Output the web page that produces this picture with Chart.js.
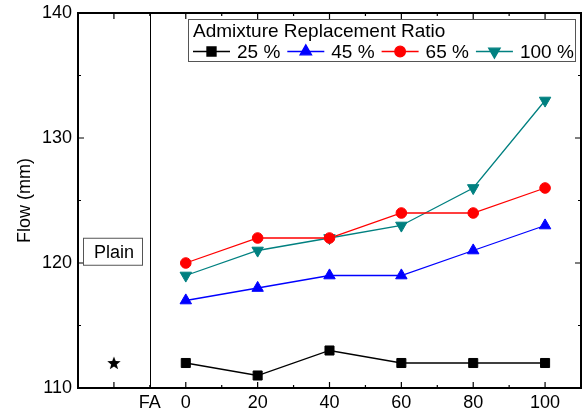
<!DOCTYPE html>
<html>
<head>
<meta charset="utf-8">
<script src="https://cdn.jsdelivr.net/npm/chart.js@4"></script>
<style>
html, body { margin: 0; padding: 0; background: #fff; }
#wrap { width: 583px; height: 411px; }
</style>
</head>
<body>
<div id="wrap"><canvas id="chart" width="583" height="411"></canvas></div>
<script>
// data
const ratios = [0, 20, 40, 60, 80, 100];
const seriesLabels = ['25 %', '45 %', '65 %', '100 %'];
const flow25 = [112, 111, 113, 112, 112, 112];
const flow45 = [117, 118, 119, 119, 121, 123];
const flow65 = [120, 122, 122, 124, 124, 126];
const flow100 = [119, 121, 122, 123, 126, 133];
const plainX = [-20];
const plainFlow = [112];
const xLabelValues = [0, 20, 40, 60, 80, 100];
const faValue = -10;
const faLabel = 'FA';
const yLabelValues = [110, 120, 130, 140];
const legendTitle = 'Admixture Replacement Ratio';
const plainLabel = 'Plain';
const yTitle = 'Flow (mm)';

const FONT = "'Liberation Sans', Arial, sans-serif";
Chart.defaults.font.family = FONT;
Chart.defaults.color = '#000';

function pts(xs, ys) {
    return xs.map(function (x, i) { return { x: x, y: ys[i] }; });
}

// filled five point star for the plain mix
function makeStar(size) {
    const c = document.createElement('canvas');
    c.width = size; c.height = size;
    const g = c.getContext('2d');
    const cx = size / 2, cy = size / 2 + 0.5, R = size / 2, r = R * 0.42;
    g.beginPath();
    for (let i = 0; i < 10; i++) {
        const rad = i % 2 === 0 ? R : r;
        const a = -Math.PI / 2 + i * Math.PI / 5;
        g.lineTo(cx + rad * Math.cos(a), cy + rad * Math.sin(a));
    }
    g.closePath();
    g.fillStyle = '#000';
    g.fill();
    return c;
}

function series(label, data, color, style, radius, rotation) {
    return {
        label: label,
        data: pts(ratios, data),
        borderColor: color,
        backgroundColor: color,
        borderWidth: 1.3,
        pointStyle: style,
        pointRadius: radius,
        pointRotation: rotation || 0,
        pointBorderWidth: 1,
        pointBorderColor: color,
        pointBackgroundColor: color,
        tension: 0,
    };
}

const datasets = [
    series(seriesLabels[0], flow25, '#000000', 'rect', 6.4),
    series(seriesLabels[1], flow45, '#0000ff', 'triangle', 6.6),
    series(seriesLabels[2], flow65, '#ff0000', 'circle', 5.3),
    series(seriesLabels[3], flow100, '#008080', 'triangle', 6.6, 180),
    {
        label: plainLabel,
        data: pts(plainX, plainFlow),
        showLine: false,
        pointStyle: makeStar(14),
        pointRadius: 7,
    },
];

const decor = {
    id: 'decor',
    beforeDatasetsDraw: function (chart) {
        const ctx = chart.ctx;
        const a = chart.chartArea;
        const xs = chart.scales.x, ys = chart.scales.y;
        ctx.save();
        ctx.strokeStyle = '#000';
        // separator between plain and FA mixes
        ctx.lineWidth = 1;
        const sx = Math.round(xs.getPixelForValue(faValue)) + 0.5;
        ctx.beginPath();
        ctx.moveTo(sx, a.top);
        ctx.lineTo(sx, a.bottom);
        ctx.stroke();
        // inward ticks on all four sides
        ctx.lineWidth = 1.2;
        ctx.beginPath();
        for (let v = xs.min + 10; v < xs.max; v += 10) {
            const len = v % 20 === 0 ? 6 : 3;
            const px = xs.getPixelForValue(v);
            ctx.moveTo(px, a.bottom); ctx.lineTo(px, a.bottom - len);
            ctx.moveTo(px, a.top); ctx.lineTo(px, a.top + len);
        }
        for (let v = ys.min + 5; v < ys.max; v += 5) {
            const len = v % 10 === 0 ? 6 : 3;
            const py = ys.getPixelForValue(v);
            ctx.moveTo(a.left, py); ctx.lineTo(a.left + len, py);
            ctx.moveTo(a.right, py); ctx.lineTo(a.right - len, py);
        }
        ctx.stroke();
        ctx.restore();
    },
    afterDatasetsDraw: function (chart) {
        const ctx = chart.ctx;
        const a = chart.chartArea;
        const xs = chart.scales.x, ys = chart.scales.y;
        ctx.save();
        // frame
        ctx.strokeStyle = '#000';
        ctx.lineWidth = 2;
        ctx.strokeRect(a.left, a.top, a.right - a.left, a.bottom - a.top);

        // "Plain" label box
        ctx.font = '18px ' + FONT;
        ctx.textAlign = 'center';
        ctx.textBaseline = 'middle';
        const pcx = xs.getPixelForValue(plainX[0]);
        const pcy = ys.getPixelForValue(120.9);
        ctx.lineWidth = 1;
        ctx.strokeStyle = '#555';
        ctx.strokeRect(83.5, pcy - 13.5, 59, 27);
        ctx.fillStyle = '#000';
        ctx.fillText(plainLabel, pcx, pcy + 1);

        // legend box
        const lx = 188.5, ly = 19.5, lw = 387, lh = 42;
        ctx.strokeStyle = '#555';
        ctx.lineWidth = 1;
        ctx.strokeRect(lx, ly, lw, lh);
        ctx.font = '19px ' + FONT;
        ctx.textAlign = 'left';
        ctx.fillText(legendTitle, 193, 32);
        let x = 193;
        const yRow = 51.5;
        for (let i = 0; i < 4; i++) {
            const ds = chart.data.datasets[i];
            ctx.strokeStyle = ds.borderColor;
            ctx.lineWidth = 1.3;
            ctx.beginPath();
            ctx.moveTo(x, yRow); ctx.lineTo(x + 37, yRow);
            ctx.stroke();
            ctx.fillStyle = ds.pointBackgroundColor;
            ctx.strokeStyle = ds.pointBorderColor;
            Chart.helpers.drawPoint(ctx, {
                pointStyle: ds.pointStyle,
                radius: ds.pointRadius,
                rotation: ds.pointRotation,
                borderWidth: 1,
            }, x + 18.5, yRow);
            ctx.fillStyle = '#000';
            ctx.fillText(ds.label, x + 44, yRow + 1);
            x += 44 + ctx.measureText(ds.label).width + 7;
        }
        ctx.restore();
    },
};

new Chart(document.getElementById('chart'), {
    type: 'line',
    data: { datasets: datasets },
    options: {
        responsive: false,
        devicePixelRatio: 1,
        animation: false,
        layout: {
            autoPadding: false,
            padding: { top: 13, right: 2, left: 0, bottom: 0 },
        },
        plugins: {
            legend: { display: false },
            tooltip: { enabled: false },
        },
        scales: {
            x: {
                type: 'linear',
                min: -30,
                max: 110,
                afterFit: function (s) {
                    s.height = 23;
                    s.paddingLeft = 0;
                    s.paddingRight = 0;
                },
                grid: { display: false, drawTicks: false },
                border: { display: false },
                ticks: {
                    stepSize: 10,
                    autoSkip: false,
                    maxRotation: 0,
                    padding: 4,
                    font: { size: 18 },
                    color: '#000',
                    callback: function (v) {
                        if (v === faValue) return faLabel;
                        return xLabelValues.indexOf(v) >= 0 ? String(v) : '';
                    },
                },
            },
            y: {
                min: 110,
                max: 140,
                afterFit: function (s) {
                    s.width = 78;
                    s.paddingTop = 0;
                    s.paddingBottom = 0;
                },
                grid: { display: false, drawTicks: false },
                border: { display: false },
                title: {
                    display: true,
                    text: yTitle,
                    font: { size: 18 },
                    color: '#000',
                    padding: { top: 14, bottom: 0 },
                },
                ticks: {
                    stepSize: 5,
                    padding: 6,
                    font: { size: 18 },
                    color: '#000',
                    callback: function (v) {
                        return yLabelValues.indexOf(v) >= 0 ? String(v) : '';
                    },
                },
            },
        },
    },
    plugins: [decor],
});
</script>
</body>
</html>
